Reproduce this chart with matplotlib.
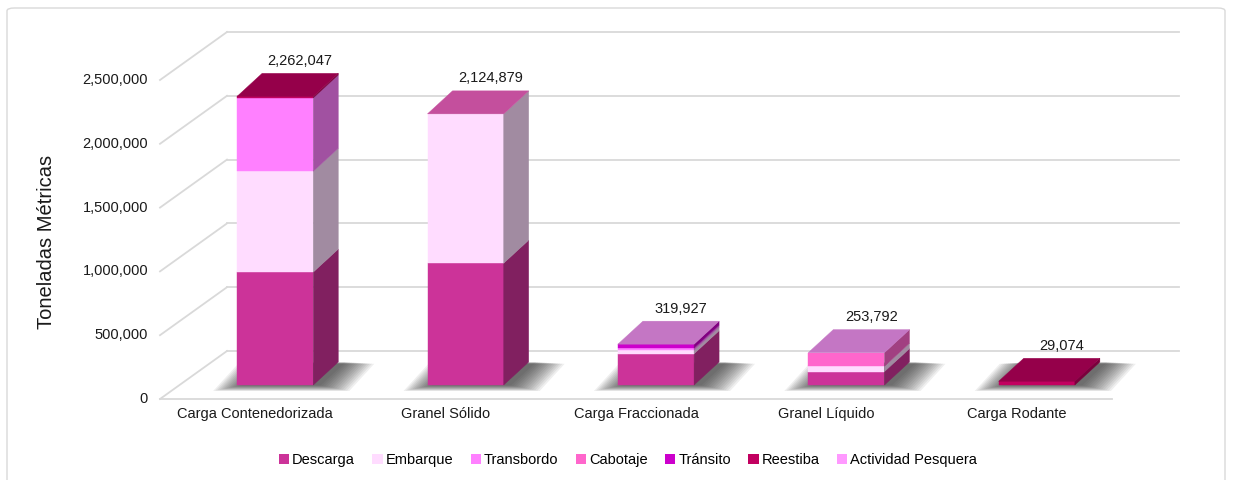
import numpy as np
import matplotlib
matplotlib.use('Agg')
import matplotlib.pyplot as plt
from matplotlib.patches import Polygon, Patch, FancyBboxPatch
from matplotlib.colors import to_rgb

plt.rcParams['font.family'] = ['Liberation Sans', 'DejaVu Sans']

# ---- data (toneladas métricas) ----
categories = ['Carga Contenedorizada', 'Granel Sólido', 'Carga Fraccionada',
              'Granel Líquido', 'Carga Rodante']
series = ['Descarga', 'Embarque', 'Transbordo', 'Cabotaje', 'Tránsito',
          'Reestiba', 'Actividad Pesquera']
nan = np.nan
descarga = [885000, 955000, 245000, 105000, nan]
embarque = [790000, 1169879, 28000, 42000, nan]
transbordo = [575000, nan, 16000, nan, nan]
cabotaje = [nan, 0, nan, 106792, nan]
transito = [nan, nan, 30927, nan, nan]
reestiba = [12047, nan, nan, nan, 29074]
act_pesquera = [nan, nan, 0, 0, nan]
yticks = [0, 500000, 1000000, 1500000, 2000000, 2500000]

values = np.array([descarga, embarque, transbordo, cabotaje, transito,
                   reestiba, act_pesquera], dtype=float)
colors = ['#cc3399', '#ffdcff', '#ff80ff', '#ff66cc', '#cc00cc',
          '#c20060', '#ff99ff']

# ---- geometry (pixel based oblique projection) ----
W, H = 1233, 480
PX_CAT = 190.4          # px per category
PX_T = 127.6e-6         # px per tonne
X0, Y0 = 160, 399       # front-left floor corner in px
WALL_DX, WALL_DY = 67 / PX_CAT, 48 / PX_T
BAR_X0, BAR_Y0 = 20 / PX_CAT, 14 / PX_T
BAR_DX, BAR_DY = 25 / PX_CAT, 23 / PX_T
HALF = 0.2
GRID = '#d9d9d9'
TXT = '#1a1a1a'


def shade(c, f):
    r, g, b = to_rgb(c)
    return (r * f, g * f, b * f)


fig = plt.figure(figsize=(W / 100, H / 100), dpi=100)
ax = fig.add_axes([0, 0, 1, 1])
ax.set_xlim(-X0 / PX_CAT, (W - X0) / PX_CAT)
ax.set_ylim(-(H - Y0) / PX_T, Y0 / PX_T)
ax.axis('off')

# outer frame (bottom edge runs off the picture)
fig.patches.append(FancyBboxPatch((7 / W, -20 / H), 1218 / W, 492 / H,
                                  boxstyle='round,pad=0,rounding_size=0.006',
                                  transform=fig.transFigure, fill=False,
                                  edgecolor='#d9d9d9', lw=1))

ncat = len(categories)
# walls: back gridlines + side diagonals
for t in yticks:
    ax.plot([0, WALL_DX], [t, t + WALL_DY], color=GRID, lw=1.3, zorder=1)
    ax.plot([WALL_DX, ncat + WALL_DX], [t + WALL_DY, t + WALL_DY],
            color=GRID, lw=1.3, zorder=1)
    ax.text(-12 / PX_CAT, t, f'{t:,}', ha='right', va='center',
            fontsize=10.5, color=TXT)
ax.plot([0, ncat], [0, 0], color=GRID, lw=1.3, zorder=1)

fig.text(47 / W, 1 - 242 / H, 'Toneladas Métricas', rotation=90,
         ha='center', va='center', fontsize=14.5, color=TXT)

for k, cat in enumerate(categories):
    c = k + 0.5
    ax.text(c, -15 / PX_T, cat, ha='center', va='center', fontsize=10.5,
            color=TXT)

    xl, xr = c - HALF + BAR_X0, c + HALF + BAR_X0
    # soft shadow on the floor, darker close to the bar
    for s in np.linspace(1, 0.05, 14):
        gx, gy = s * 30 / PX_CAT, s * 6 / PX_T
        sh = 6 / PX_CAT
        poly = [(xl - gx + sh, BAR_Y0 - gy), (xr + gx + sh, BAR_Y0 - gy),
                (xr + BAR_DX + gx + sh, BAR_Y0 + BAR_DY - gy * 0.3),
                (xl + BAR_DX - gx + sh, BAR_Y0 + BAR_DY - gy * 0.3)]
        ax.add_patch(Polygon(poly, closed=True, facecolor='#2a2a2a',
                             alpha=0.075, lw=0, zorder=2))

    bottom = 0.0
    top_color = None
    for j in range(len(series)):
        v = values[j, k]
        if np.isnan(v):
            continue
        top_color = colors[j]
        if v <= 0:
            continue
        y1, y2 = bottom + BAR_Y0, bottom + v + BAR_Y0
        front = [(xl, y1), (xr, y1), (xr, y2), (xl, y2)]
        side = [(xr, y1), (xr + BAR_DX, y1 + BAR_DY),
                (xr + BAR_DX, y2 + BAR_DY), (xr, y2)]
        ax.add_patch(Polygon(front, closed=True, facecolor=colors[j],
                             edgecolor=colors[j], lw=0.3, zorder=3))
        ax.add_patch(Polygon(side, closed=True, facecolor=shade(colors[j], 0.63),
                             edgecolor=shade(colors[j], 0.63), lw=0.3, zorder=3))
        bottom += v
    yt = bottom + BAR_Y0
    topf = [(xl, yt), (xr, yt), (xr + BAR_DX, yt + BAR_DY),
            (xl + BAR_DX, yt + BAR_DY)]
    ax.add_patch(Polygon(topf, closed=True, facecolor=shade(top_color, 0.77),
                         edgecolor=shade(top_color, 0.77), lw=0.3, zorder=4))
    ax.annotate(f'{int(round(bottom)):,}', (c + BAR_X0 + BAR_DX, yt + BAR_DY),
                xytext=(0, 4), textcoords='offset points', ha='center',
                va='bottom', fontsize=10.5, color=TXT, zorder=5)

handles = [Patch(facecolor=col, edgecolor='none', label=s)
           for s, col in zip(series, colors)]
fig.legend(handles=handles, loc='center', bbox_to_anchor=(628 / W, 1 - 460 / H),
           ncol=7, frameon=False, fontsize=10.5, handlelength=0.7,
           handleheight=0.7, handletextpad=0.2, columnspacing=1.2)

fig.savefig('out.png', dpi=100, facecolor='white')
